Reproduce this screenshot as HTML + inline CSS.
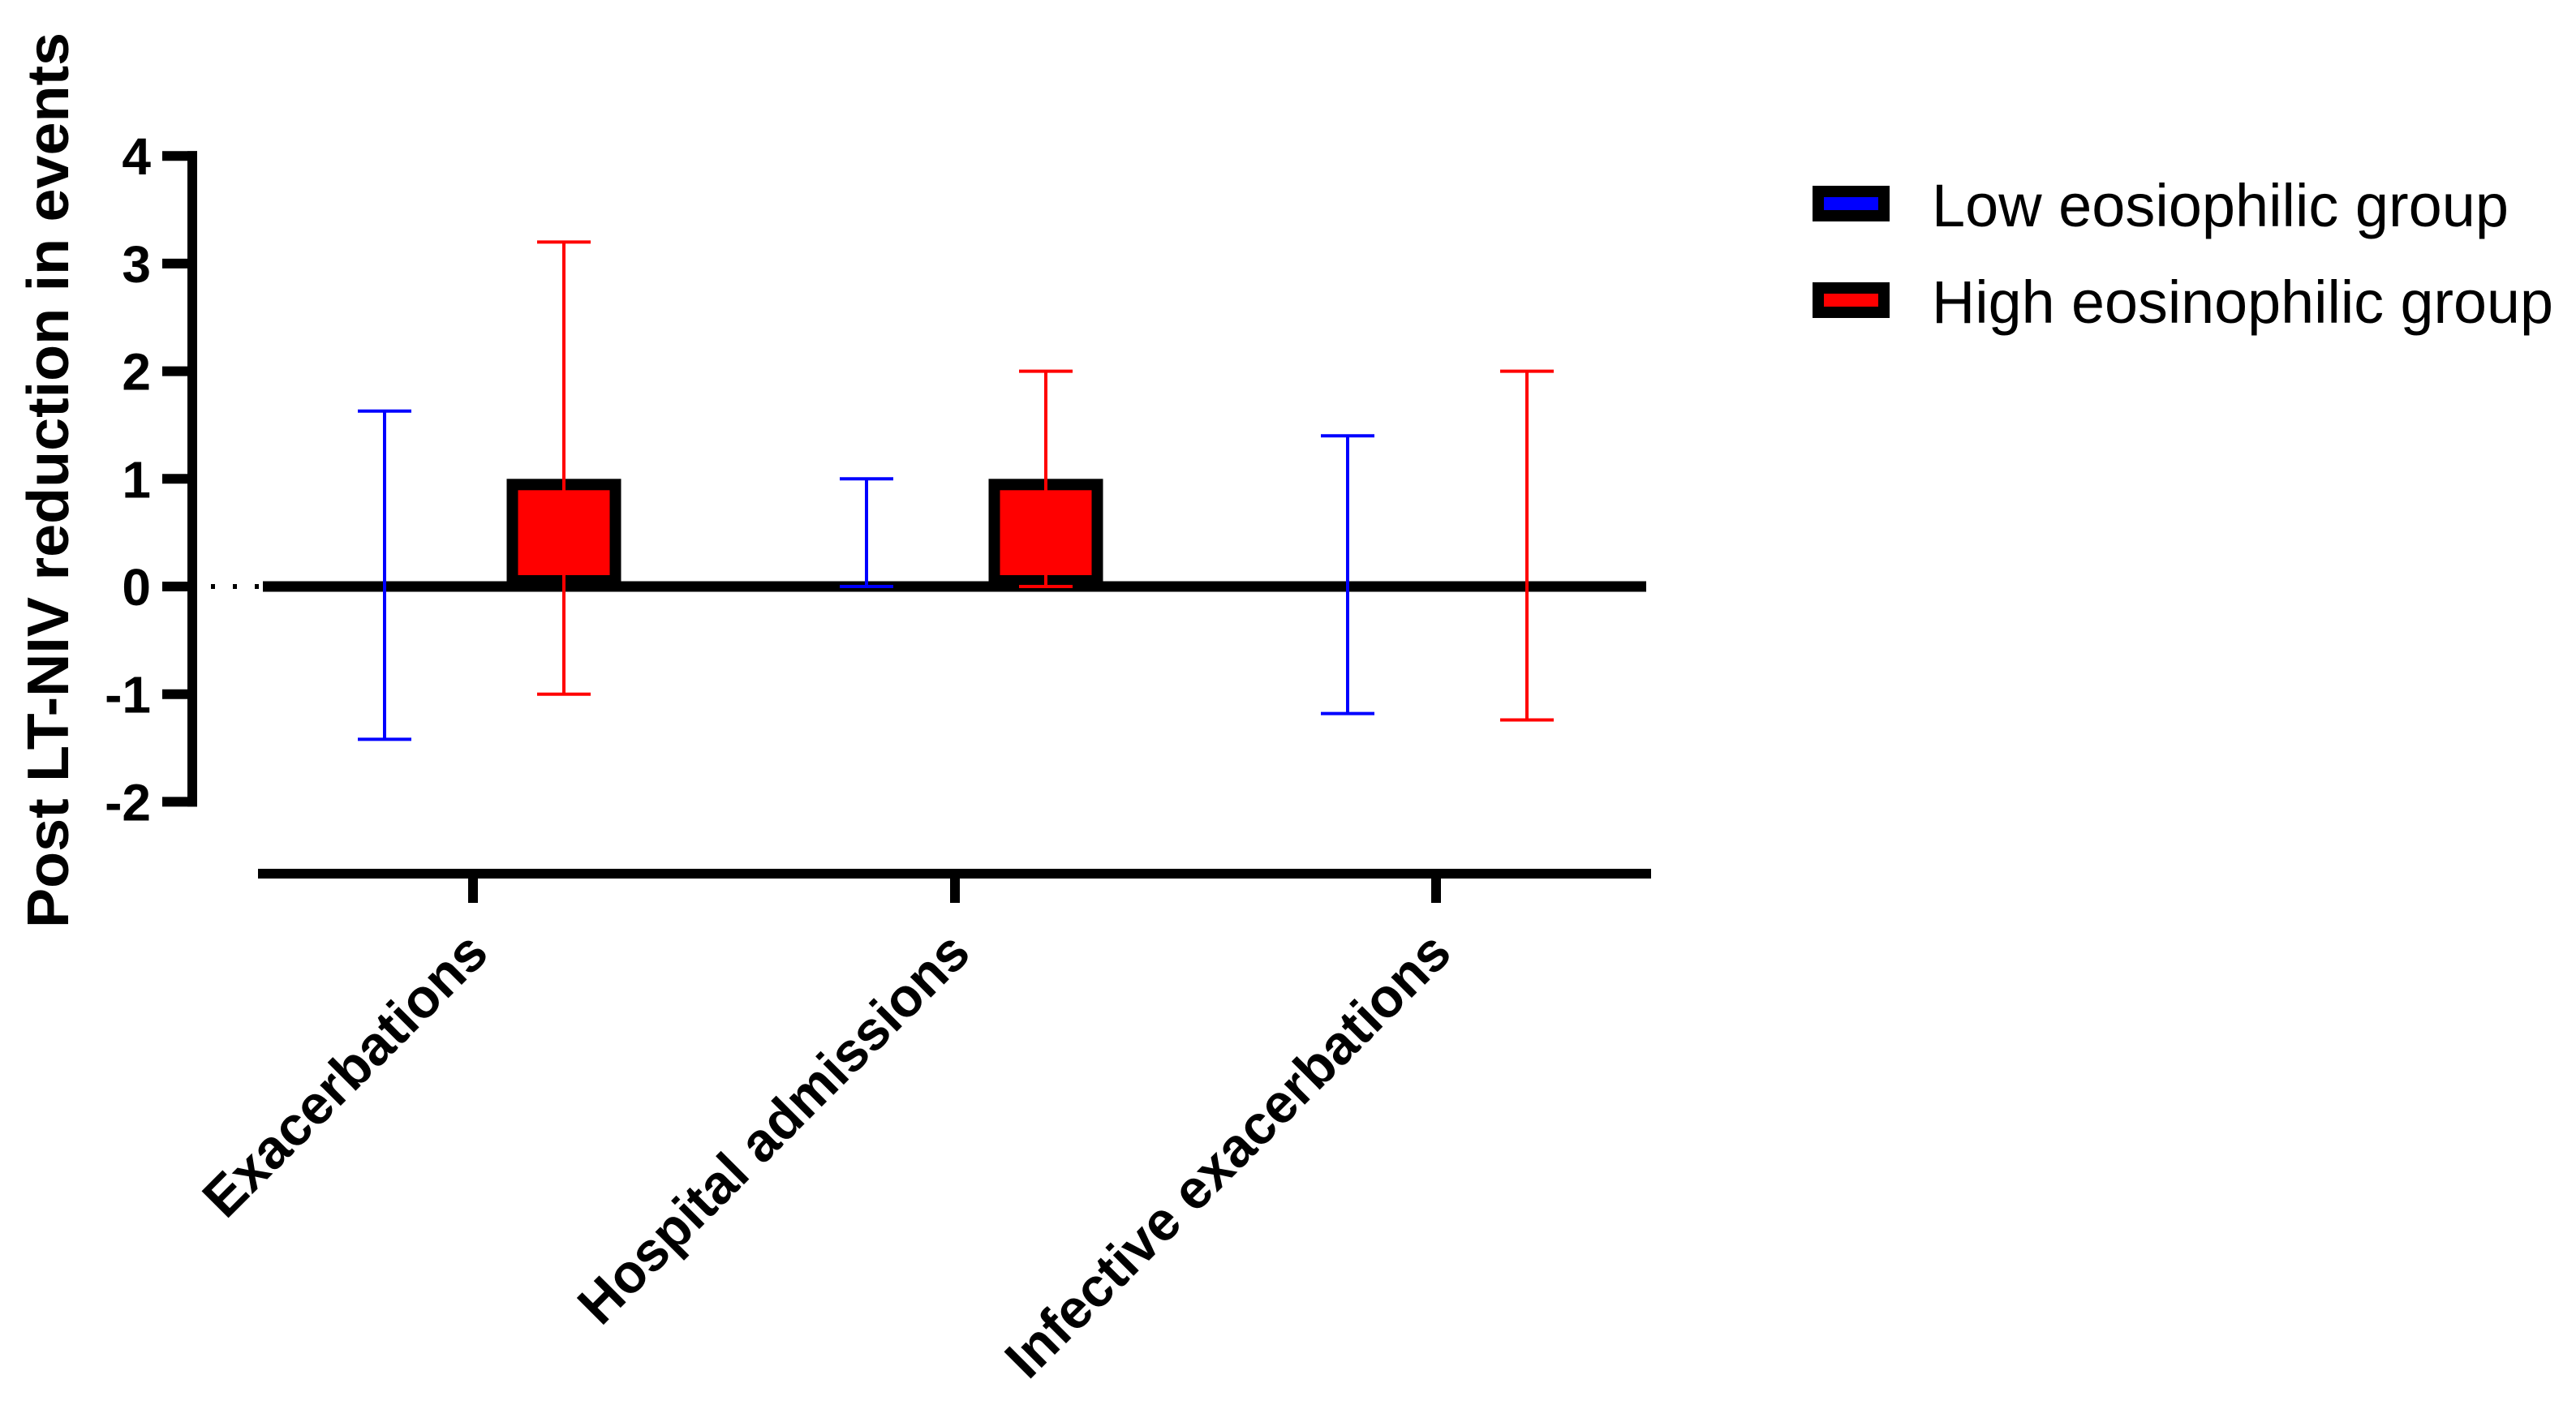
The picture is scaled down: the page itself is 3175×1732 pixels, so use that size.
<!DOCTYPE html>
<html><head><meta charset="utf-8"><style>
html,body{margin:0;padding:0;background:#fff;}
svg{display:block;}
text{font-family:"Liberation Sans",Arial,sans-serif;}
</style></head><body>
<svg id="chart" width="3175" height="1732" viewBox="0 0 3175 1732">
<g id="marks"></g>
</svg>
<script>
const categories = ["Exacerbations", "Hospital admissions", "Infective exacerbations"];
const lowMean = [0, 0, 0];
const lowUpper = [1.63, 1.0, 1.4];
const lowLower = [-1.42, 0, -1.18];
const highMean = [1, 1, 0];
const highUpper = [3.2, 2.0, 2.0];
const highLower = [-1.0, 0, -1.24];
const yTicks = [4, 3, 2, 1, 0, -1, -2];
const labelLengths = [462, 648, 742];

const NS = "http://www.w3.org/2000/svg";
const g = document.getElementById("marks");
function y(v){ return 723 - v * 132.7; }
const catX = [583, 1177, 1770];
function x(i, s){ return catX[i] + (s === 0 ? -109 : 112); }
function mk(tag, attrs, parent){
  const e = document.createElementNS(NS, tag);
  for (const k in attrs) e.setAttribute(k, attrs[k]);
  (parent || g).appendChild(e);
  return e;
}

// y axis
let el = mk("line", {x1:237, y1:y(4)-6, x2:237, y2:y(-2)+6, stroke:"#000", "stroke-width":12});


yTicks.forEach(t => {
  const tk = mk("line", {x1:200, y1:y(t), x2:243, y2:y(t), stroke:"#000", "stroke-width":12});
  
  
  const lb = mk("text", {x:186, y:y(t)+23, "text-anchor":"end", "font-size":64, "font-weight":"bold"});
  lb.textContent = t;
  
  
});
el = mk("text", {x:0, y:0, transform:"translate(84,592) rotate(-90)", "text-anchor":"middle", "font-size":72, "font-weight":"bold", textLength:1104, lengthAdjust:"spacingAndGlyphs"});
el.textContent = "Post LT-NIV reduction in events";



// dotted start of zero line
el = mk("line", {x1:260, y1:y(0), x2:320, y2:y(0), stroke:"#000", "stroke-width":6, "stroke-dasharray":"5 22"});



// bars
function bar(i, s, v, color){
  if (v === 0) return;
  const w = 141, bw = 14;
  const top = Math.min(y(v), y(0)), h = Math.abs(y(v) - y(0));
  const r = mk("rect", {x:x(i,s)-w/2+bw/2, y:top+bw/2, width:w-bw, height:h-bw, fill:color, stroke:"#000", "stroke-width":bw});
  
  
}
categories.forEach((c,i) => { bar(i,0,lowMean[i],"#0000ff"); bar(i,1,highMean[i],"#ff0000"); });

// zero line
el = mk("line", {x1:324, y1:y(0), x2:2029, y2:y(0), stroke:"#000", "stroke-width":13});



// error bars
function err(i, s, lo, hi, color){
  const cx = x(i,s);
  const grp = mk("g", {stroke:color, "stroke-width":4});
  
  
  mk("line", {x1:cx, y1:y(hi), x2:cx, y2:y(lo)}, grp);
  mk("line", {x1:cx-33, y1:y(hi), x2:cx+33, y2:y(hi)}, grp);
  mk("line", {x1:cx-33, y1:y(lo), x2:cx+33, y2:y(lo)}, grp);
}
categories.forEach((c,i) => { err(i,0,lowLower[i],lowUpper[i],"#0000ff"); err(i,1,highLower[i],highUpper[i],"#ff0000"); });

// x axis
el = mk("line", {x1:318, y1:1077, x2:2035, y2:1077, stroke:"#000", "stroke-width":12});


categories.forEach((c,i) => {
  const tk = mk("line", {x1:catX[i], y1:1077, x2:catX[i], y2:1113, stroke:"#000", "stroke-width":12});
  
  
  const lb = mk("text", {x:-labelLengths[i], y:0, transform:"translate(" + (catX[i]+22) + ",1178) rotate(-45)", "font-size":68, "font-weight":"bold", textLength:labelLengths[i], lengthAdjust:"spacingAndGlyphs"});
  lb.textContent = c;
  
  
});

// legend
const legendNames = ["Low eosiophilic group", "High eosinophilic group"];
const legendColors = ["#0000ff", "#ff0000"];
const legendLengths = [711, 766];
legendNames.forEach((n,k) => {
  const yy = 229 + k*119;
  const sw = mk("rect", {x:2241, y:yy+7, width:81, height:30, fill:legendColors[k], stroke:"#000", "stroke-width":14});
  
  
  const t = mk("text", {x:2381, y:yy+50, "font-size":74, textLength:legendLengths[k], lengthAdjust:"spacingAndGlyphs"});
  t.textContent = n;
  
  
});
</script>
</body></html>
